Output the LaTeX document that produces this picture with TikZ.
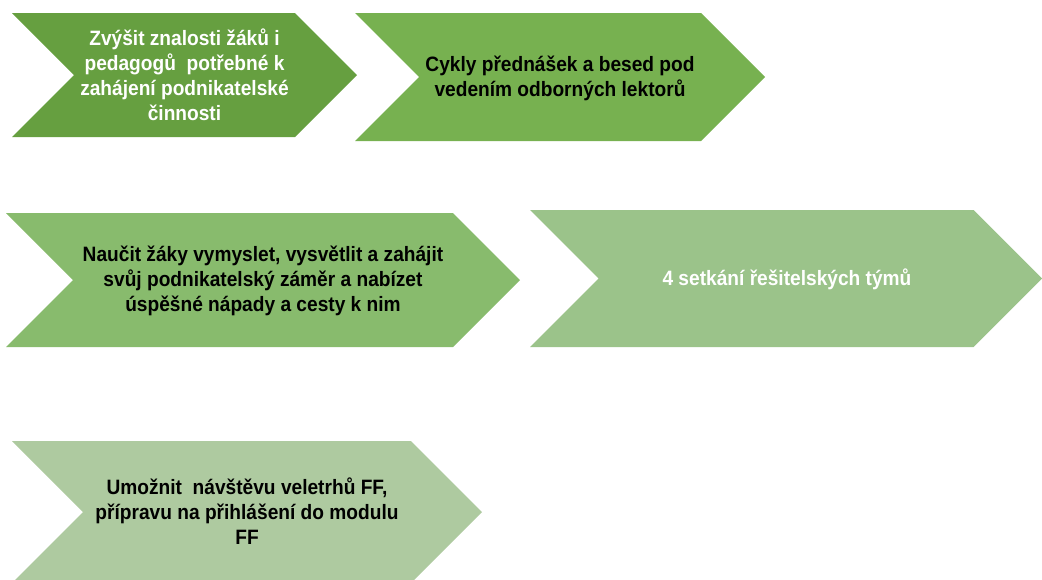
\documentclass[tikz,border=0pt]{standalone}
\usepackage{fontspec}
\newfontfamily\labfont{Liberation Sans}[FakeStretch=0.92]
\definecolor{gA}{HTML}{669F40}
\definecolor{gB}{HTML}{77B150}
\definecolor{gC}{HTML}{88BB6D}
\definecolor{gD}{HTML}{9BC38A}
\definecolor{gE}{HTML}{AECAA0}
\newcommand\chevshape[6]{%
  \fill[#6] (#1,#2) -- ({#3-#5},#2) -- (#3,{(#2+#4)/2}) -- ({#3-#5},#4) -- (#1,#4) -- ({#1+#5},{(#2+#4)/2}) -- cycle;}
\begin{document}
\begin{tikzpicture}[x=1pt,y=-1pt,
  lab/.style={align=center,font=\labfont\bfseries\fontsize{20.8}{25}\selectfont,inner sep=0pt}]
\useasboundingbox (0,0) rectangle (1042,579);
\clip (0,0) rectangle (1042,579);
\chevshape{12}{13}{357}{137}{62}{gA}
\chevshape{355}{13}{765}{141}{64}{gB}
\chevshape{6}{213}{520}{347}{67}{gC}
\chevshape{530}{210}{1042}{347}{68.5}{gD}
\chevshape{12}{441}{482}{583}{71}{gE}
\node[lab,text=white] (t1) at (184.5,75) {Zvýšit znalosti žáků i\\pedagogů\ \ potřebné k\\zahájení podnikatelské\\činnosti};
\node[lab,text=black] (t2) at (560,78) {Cykly přednášek a besed pod\\vedením odborných lektorů};
\node[lab,text=black] (t3) at (263,281) {Naučit žáky vymyslet, vysvětlit a zahájit\\svůj podnikatelský záměr a nabízet\\úspěšné nápady a cesty k nim};
\node[lab,text=white] (t4) at (787,279) {4 setkání řešitelských týmů};
\node[lab,text=black] (t5) at (247,511) {Umožnit\ \ návštěvu veletrhů FF,\\přípravu na přihlášení do modulu\\FF};
\end{tikzpicture}
\end{document}
